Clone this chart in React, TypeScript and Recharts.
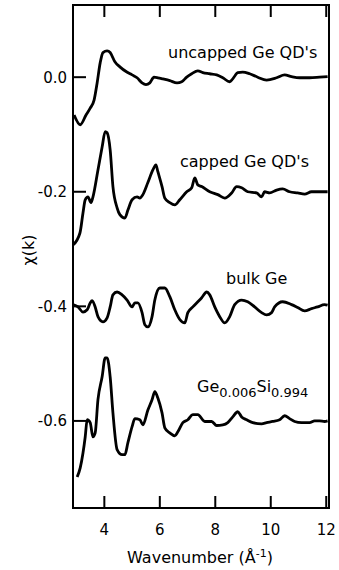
import { LineChart, Line, XAxis, YAxis } from 'recharts';

// wavenumber k (1/Å) and chi(k) pairs
const uncapped: [number, number][] = [
  [2.91, -0.066], [3.13, -0.083], [3.34, -0.066], [3.49, -0.054], [3.63, -0.04],
  [3.74, -0.01], [3.85, 0.025], [3.95, 0.043], [4.1, 0.046], [4.21, 0.043],
  [4.38, 0.027], [4.56, 0.018], [4.81, 0.009], [5.0, 0.004], [5.18, -0.001],
  [5.36, -0.01], [5.5, -0.013], [5.64, -0.01], [5.79, 0.0], [5.93, -0.001],
  [6.11, -0.003], [6.36, -0.006], [6.62, -0.01], [6.79, -0.008], [6.97, 0.0],
  [7.15, 0.006], [7.37, 0.011], [7.55, 0.008], [7.8, 0.006], [8.05, 0.004],
  [8.27, -0.001], [8.52, -0.008], [8.63, -0.003], [8.81, 0.008], [8.99, 0.009],
  [9.24, 0.006], [9.53, 0.0], [9.85, -0.005], [10.21, -0.001], [10.5, 0.004],
  [10.75, 0.001], [11.04, -0.001], [11.4, -0.001], [11.76, 0.0], [12.05, 0.001],
];

const capped: [number, number][] = [
  [2.87, -0.293], [3.12, -0.272], [3.23, -0.237], [3.31, -0.214], [3.41, -0.209],
  [3.52, -0.219], [3.59, -0.209], [3.77, -0.162], [3.92, -0.122], [4.03, -0.095],
  [4.1, -0.097], [4.21, -0.127], [4.31, -0.191], [4.46, -0.228], [4.56, -0.24],
  [4.74, -0.246], [4.85, -0.232], [5.0, -0.214], [5.18, -0.209], [5.28, -0.211],
  [5.39, -0.205], [5.57, -0.184], [5.75, -0.162], [5.86, -0.153], [5.93, -0.165],
  [6.08, -0.191], [6.18, -0.211], [6.36, -0.219], [6.54, -0.223], [6.72, -0.214],
  [6.97, -0.2], [7.15, -0.193], [7.26, -0.176], [7.37, -0.188], [7.51, -0.191],
  [7.8, -0.2], [8.09, -0.205], [8.34, -0.211], [8.59, -0.202], [8.77, -0.191],
  [8.95, -0.193], [9.17, -0.2], [9.49, -0.202], [9.67, -0.209], [9.78, -0.2],
  [9.96, -0.202], [10.21, -0.197], [10.43, -0.195], [10.68, -0.2], [10.97, -0.202],
  [11.22, -0.204], [11.47, -0.2], [11.69, -0.2], [11.94, -0.2], [12.05, -0.2],
];

const bulk: [number, number][] = [
  [2.87, -0.397], [3.05, -0.401], [3.23, -0.41], [3.38, -0.406], [3.49, -0.394],
  [3.56, -0.39], [3.67, -0.401], [3.77, -0.418], [3.95, -0.427], [4.1, -0.42],
  [4.21, -0.401], [4.31, -0.38], [4.46, -0.375], [4.64, -0.38], [4.82, -0.389],
  [5.0, -0.401], [5.1, -0.394], [5.21, -0.394], [5.36, -0.411], [5.46, -0.432],
  [5.57, -0.436], [5.72, -0.418], [5.82, -0.389], [6.0, -0.368], [6.18, -0.368],
  [6.36, -0.383], [6.54, -0.406], [6.72, -0.423], [6.9, -0.429], [7.01, -0.411],
  [7.19, -0.401], [7.37, -0.392], [7.51, -0.385], [7.69, -0.375], [7.8, -0.38],
  [7.98, -0.401], [8.16, -0.418], [8.34, -0.429], [8.52, -0.418], [8.7, -0.397],
  [8.95, -0.389], [9.17, -0.392], [9.42, -0.401], [9.67, -0.411], [9.85, -0.415],
  [10.03, -0.411], [10.14, -0.401], [10.43, -0.392], [10.75, -0.397], [10.97, -0.402],
  [11.22, -0.408], [11.47, -0.404], [11.69, -0.401], [11.94, -0.397], [12.05, -0.398],
];

const geSi: [number, number][] = [
  [3.02, -0.698], [3.13, -0.682], [3.23, -0.656], [3.31, -0.628], [3.38, -0.598],
  [3.49, -0.603], [3.59, -0.628], [3.67, -0.621], [3.77, -0.563], [3.92, -0.523],
  [4.03, -0.49], [4.1, -0.49], [4.21, -0.523], [4.31, -0.586], [4.46, -0.65],
  [4.64, -0.659], [4.74, -0.659], [4.85, -0.638], [5.0, -0.61], [5.1, -0.596],
  [5.28, -0.598], [5.39, -0.607], [5.57, -0.581], [5.72, -0.563], [5.82, -0.549],
  [5.93, -0.56], [6.08, -0.586], [6.18, -0.612], [6.36, -0.621], [6.54, -0.626],
  [6.65, -0.619], [6.83, -0.603], [7.01, -0.598], [7.19, -0.589], [7.37, -0.589],
  [7.62, -0.601], [7.87, -0.601], [8.05, -0.608], [8.27, -0.607], [8.45, -0.603],
  [8.63, -0.593], [8.81, -0.584], [8.95, -0.593], [9.13, -0.598], [9.35, -0.603],
  [9.67, -0.605], [9.85, -0.603], [10.07, -0.601], [10.32, -0.598], [10.5, -0.591],
  [10.68, -0.596], [10.86, -0.601], [11.11, -0.603], [11.4, -0.603], [11.58, -0.6],
  [11.76, -0.6], [11.94, -0.601], [12.05, -0.6],
];

const xTicks = [4, 6, 8, 10, 12];
const yTicks = [0, -0.2, -0.4, -0.6];

const W = 339;
const H = 570;
const margin = { top: 5, right: 10, bottom: 0, left: 0 };
const Y_W = 73;
const X_H = 62;
const PLOT_LEFT = margin.left + Y_W;
const PLOT_TOP = margin.top;
const PLOT_BOTTOM = H - margin.bottom - X_H;
const PLOT_RIGHT = W - margin.right;
const FONT = '"DejaVu Sans", Verdana, sans-serif';

const toRows = (pts: [number, number][]) => pts.map(([k, chi]) => ({ k, chi }));

const XTick = ({ x, payload }: any) => (
  <g>
    <line x1={x} x2={x} y1={PLOT_BOTTOM} y2={PLOT_BOTTOM - 12} stroke="#000" strokeWidth={2} />
    <line x1={x} x2={x} y1={PLOT_TOP} y2={PLOT_TOP + 12} stroke="#000" strokeWidth={2} />
    <text x={x} y={PLOT_BOTTOM + 27} textAnchor="middle" fontSize={15} fontFamily={FONT} fill="#000">
      {payload.value}
    </text>
  </g>
);

const YTick = ({ y, payload }: any) => (
  <g>
    <line x1={PLOT_LEFT} x2={PLOT_LEFT + 13} y1={y} y2={y} stroke="#000" strokeWidth={2} />
    <text x={PLOT_LEFT - 6} y={y} dy="0.36em" textAnchor="end" fontSize={15} fontFamily={FONT} fill="#000">
      {payload.value === 0 ? '0.0' : payload.value.toFixed(1)}
    </text>
  </g>
);

export default function App() {
  const line = { type: 'monotone' as const, dataKey: 'chi', stroke: '#000', strokeWidth: 2.8, dot: false, isAnimationActive: false };
  return (
    <div style={{ position: 'absolute', left: 0, top: 0, width: W, height: H, background: '#fff' }}>
      <LineChart width={W} height={H} margin={margin}>
        <XAxis
          dataKey="k"
          type="number"
          domain={[2.87, 12.1]}
          allowDataOverflow
          ticks={xTicks}
          interval={0}
          height={X_H}
          tickLine={false}
          tickSize={0}
          tick={XTick}
          axisLine={{ stroke: '#000', strokeWidth: 2 }}
        />
        <YAxis
          type="number"
          domain={[-0.752, 0.126]}
          allowDataOverflow
          ticks={yTicks}
          interval={0}
          width={Y_W}
          tickLine={false}
          tickSize={0}
          tick={YTick}
          axisLine={{ stroke: '#000', strokeWidth: 2 }}
        />
        <Line {...line} data={toRows(uncapped)} name="uncapped" />
        <Line {...line} data={toRows(capped)} name="capped" />
        <Line {...line} data={toRows(bulk)} name="bulk" />
        <Line {...line} data={toRows(geSi)} name="geSi" />
      </LineChart>
      <svg width={W} height={H} style={{ position: 'absolute', left: 0, top: 0, pointerEvents: 'none' }}
        fontFamily={FONT} fill="#000">
        <rect x={PLOT_LEFT} y={PLOT_TOP} width={PLOT_RIGHT - PLOT_LEFT} height={PLOT_BOTTOM - PLOT_TOP}
          fill="none" stroke="#000" strokeWidth={2} />
        <text x={168} y={58} fontSize={16}>uncapped Ge QD's</text>
        <text x={180} y={167} fontSize={16}>capped Ge QD's</text>
        <text x={226} y={284} fontSize={16}>bulk Ge</text>
        <text x={197} y={392} fontSize={16}>
          Ge<tspan fontSize={13} dy={5}>0.006</tspan>
          <tspan dy={-5}>Si</tspan>
          <tspan fontSize={13} dy={5}>0.994</tspan>
        </text>
        <text transform="translate(34,250) rotate(-90)" textAnchor="middle" fontSize={16}>χ(k)</text>
        <text x={200} y={563} textAnchor="middle" fontSize={16}>
          Wavenumber (Å<tspan fontSize={11} dy={-6}>-1</tspan>
          <tspan dy={6}>)</tspan>
        </text>
      </svg>
    </div>
  );
}
